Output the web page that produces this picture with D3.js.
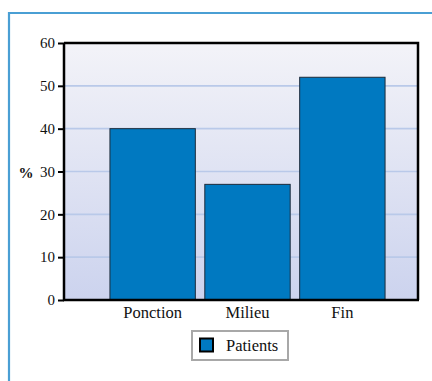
<!DOCTYPE html>
<html>
<head>
<meta charset="utf-8">
<script src="https://cdn.jsdelivr.net/npm/d3@7/dist/d3.min.js"></script>
<style>
  html, body { margin: 0; padding: 0; background: #fff; }
  svg { display: block; }
  text { font-family: "Liberation Serif", "DejaVu Serif", serif; fill: #111; }
</style>
</head>
<body>
<script>
// Share of patients per phase
const categories = ["Ponction", "Milieu", "Fin"];
const patients = [40, 27, 52];
const yTicks = [0, 10, 20, 30, 40, 50, 60];
const seriesName = "Patients";

const W = 432, H = 381;
const plot = { left: 64, right: 418, top: 43, bottom: 300 };

const svg = d3.select("body").append("svg")
  .attr("width", W).attr("height", H);

// outer panel frame
svg.append("path")
  .attr("d", `M9,${H + 5}V13H${W + 5}`)
  .attr("fill", "none")
  .attr("stroke", "#4a9fd4")
  .attr("stroke-width", 2.2);

const defs = svg.append("defs");
const grad = defs.append("linearGradient")
  .attr("id", "bg").attr("x1", 0).attr("y1", 0).attr("x2", 0).attr("y2", 1);
grad.append("stop").attr("offset", "0%").attr("stop-color", "#f3f3f8");
grad.append("stop").attr("offset", "100%").attr("stop-color", "#ccd3ee");

const y = d3.scaleLinear().domain([0, 60]).range([plot.bottom, plot.top]);
const x = d3.scaleBand().domain(categories)
  .range([105.2, 389.8]).paddingInner(0.1).paddingOuter(0.05);

// plot background
svg.append("rect")
  .attr("x", plot.left).attr("y", plot.top)
  .attr("width", plot.right - plot.left).attr("height", plot.bottom - plot.top)
  .attr("fill", "url(#bg)");

// horizontal gridlines
svg.append("g").selectAll("line")
  .data(yTicks.filter(t => t > 0 && t < 60))
  .join("line")
  .attr("x1", plot.left).attr("x2", plot.right)
  .attr("y1", d => y(d)).attr("y2", d => y(d))
  .attr("stroke", "#b9c9e9").attr("stroke-width", 1.6);

// bars
svg.append("g").selectAll("rect")
  .data(categories.map((c, i) => ({ c, v: patients[i] })))
  .join("rect")
  .attr("x", d => x(d.c)).attr("width", x.bandwidth())
  .attr("y", d => y(d.v)).attr("height", d => y(0) - y(d.v))
  .attr("fill", "#0079c1")
  .attr("stroke", "#1d2b3a").attr("stroke-width", 1);

// plot frame: top and right borders
svg.append("path")
  .attr("d", `M${plot.left},${plot.top}H${plot.right}V${plot.bottom}`)
  .attr("fill", "none").attr("stroke", "#000").attr("stroke-width", 2.5);

// y axis
const yAxis = svg.append("g")
  .attr("transform", `translate(${plot.left},0)`)
  .call(d3.axisLeft(y).tickValues(yTicks).tickSize(6).tickPadding(3).tickFormat(d3.format("d")));
yAxis.select(".domain").attr("stroke", "#000").attr("stroke-width", 2.5)
  .attr("d", `M0,${plot.top}V${plot.bottom}`);
yAxis.selectAll(".tick line").attr("stroke", "#000").attr("stroke-width", 2);
yAxis.selectAll(".tick text")
  .style("font-family", "'Liberation Serif', serif")
  .style("font-size", "15px").attr("fill", "#111");

// x axis
const xAxis = svg.append("g")
  .attr("transform", `translate(0,${plot.bottom})`)
  .call(d3.axisBottom(x).tickSize(0).tickPadding(6));
xAxis.select(".domain").attr("stroke", "#000").attr("stroke-width", 2.5)
  .attr("d", `M${plot.left - 1},0H${plot.right + 1}`);
xAxis.selectAll(".tick text")
  .style("font-family", "'Liberation Serif', serif")
  .style("font-size", "16.5px").attr("fill", "#111");

// y axis title
svg.append("text")
  .attr("x", 26).attr("y", 178)
  .attr("text-anchor", "middle")
  .style("font-size", "15px").style("font-weight", "bold")
  .text("%");

// legend
const lg = svg.append("g").attr("transform", "translate(192,331)");
lg.append("rect")
  .attr("width", 96).attr("height", 29)
  .attr("fill", "#fff").attr("stroke", "#a8a8a8").attr("stroke-width", 2);
lg.append("rect")
  .attr("x", 8).attr("y", 7.5).attr("width", 13).attr("height", 13)
  .attr("fill", "#0079c1").attr("stroke", "#000").attr("stroke-width", 2);
lg.append("text")
  .attr("x", 34).attr("y", 19.5)
  .style("font-size", "16.5px")
  .text(seriesName);
</script>
</body>
</html>
